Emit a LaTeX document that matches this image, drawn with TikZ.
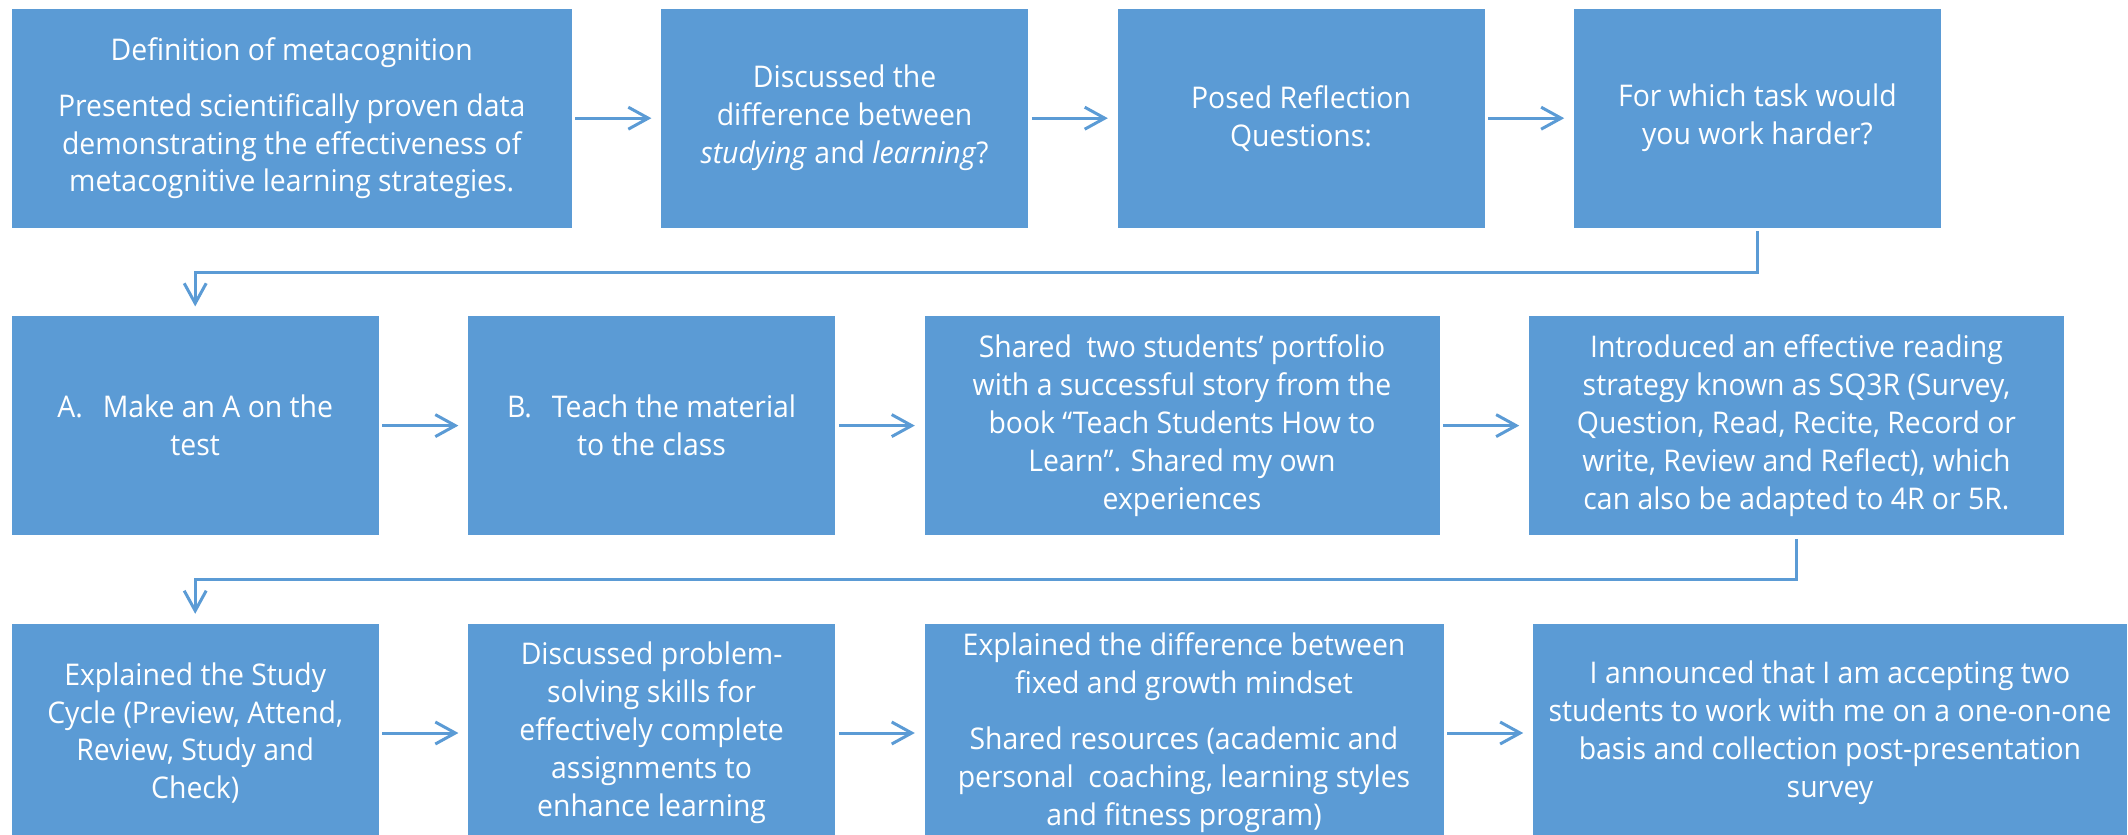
\documentclass[tikz,border=0pt]{standalone}
\usepackage{fontspec}
\setmainfont[FakeStretch=0.95]{Open Sans}
\usepackage{tikz}
\usetikzlibrary{arrows.meta, positioning}
\definecolor{bleuetape}{HTML}{5B9BD5}
\tikzset{
  etape/.style={rectangle, fill=bleuetape, text=white, anchor=north west,
    font=\fontsize{8.5}{10.8}\selectfont, align=center,
    minimum height=21.9mm, minimum width=36.7mm, inner sep=0.4mm},
  fleche/.style={-{Straight Barb[length=2mm, width=2.2mm]}, line width=0.3mm,
    color=bleuetape, shorten <=0.3mm, shorten >=0.9mm}
}

\begin{document}
\begin{tikzpicture}[node distance=8.7mm and 8.8mm]
  \useasboundingbox (0,0) rectangle (212.8mm,-83.5mm);

  % premiere ligne
  \node[etape, minimum width=56mm] (definition) at (1.1mm,-0.8mm)
    {Definition of metacognition\\[1.8mm]
     Presented scientifically proven data\\
     demonstrating the effectiveness of\\
     metacognitive learning strategies.};
  \node[etape, right=of definition] (difference)
    {Discussed the\\difference between\\\textit{studying} and \textit{learning}?};
  \node[etape, right=of difference] (reflexion) {Posed Reflection\\Questions:};
  \node[etape, right=of reflexion] (tache) {For which task would\\you work harder?};

  % deuxieme ligne
  \node[etape, below=of definition.south west, anchor=north west] (noteA)
    {A.\hspace{2mm}Make an A on the\\test};
  \node[etape, right=of noteA] (enseigner)
    {B.\hspace{2mm}Teach the material\\to the class};
  \node[etape, right=of enseigner, minimum width=51.5mm] (portfolio)
    {Shared\ \ two students’ portfolio\\with a successful story from the\\
     book “Teach Students How to\\Learn”. Shared my own\\experiences};
  \node[etape, right=of portfolio, minimum width=53.5mm] (lecture)
    {Introduced an effective reading\\strategy known as SQ3R (Survey,\\
     Question, Read, Recite, Record or\\write, Review and Reflect), which\\
     can also be adapted to 4R or 5R.};

  % troisieme ligne
  \node[etape, below=of noteA.south west, anchor=north west] (cycle)
    {Explained the Study\\Cycle (Preview, Attend,\\Review, Study and\\Check)};
  \node[etape, right=of cycle] (probleme)
    {Discussed problem-\\solving skills for\\effectively complete\\
     assignments to\\enhance learning};
  \node[etape, right=of probleme, minimum width=51.9mm] (mindset)
    {Explained the difference between\\fixed and growth mindset\\[1.8mm]
     Shared resources (academic and\\personal\ \ coaching, learning styles\\
     and fitness program)};
  \node[etape, right=of mindset, minimum width=59.4mm] (annonce)
    {I announced that I am accepting two\\students to work with me on a one-on-one\\
     basis and collection post-presentation\\survey};

  \draw[fleche] (definition) -- (difference);
  \draw[fleche] (difference) -- (reflexion);
  \draw[fleche] (reflexion) -- (tache);
  \draw[fleche] (tache.south) -- ++(0,-4.4mm) -| (noteA.north);

  \draw[fleche] (noteA) -- (enseigner);
  \draw[fleche] (enseigner) -- (portfolio);
  \draw[fleche] (portfolio) -- (lecture);
  \draw[fleche] (lecture.south) -- ++(0,-4.4mm) -| (cycle.north);

  \draw[fleche] (cycle) -- (probleme);
  \draw[fleche] (probleme) -- (mindset);
  \draw[fleche] (mindset) -- (annonce);
\end{tikzpicture}
\end{document}
